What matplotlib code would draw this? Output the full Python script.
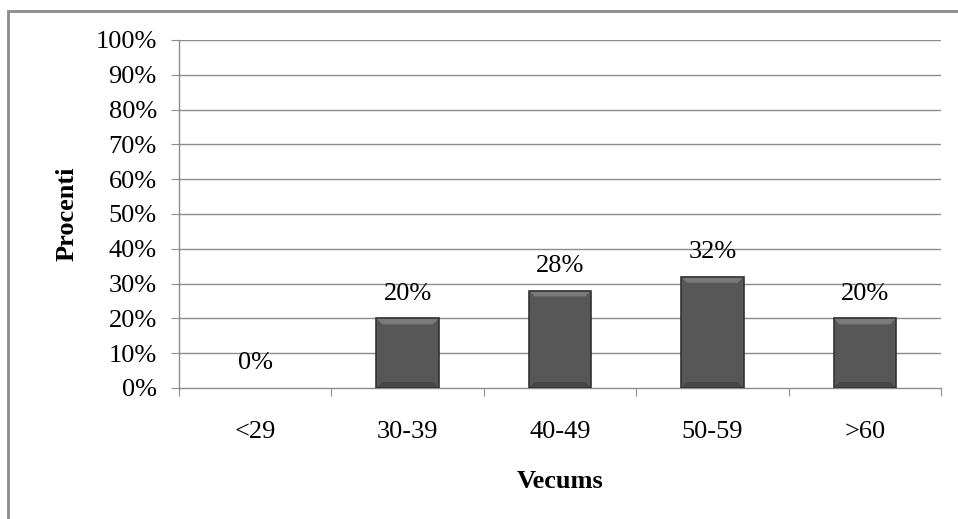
import matplotlib
matplotlib.use("Agg")
import matplotlib.pyplot as plt
from matplotlib.patches import Rectangle, Polygon
import numpy as np

categories = ["<29", "30-39", "40-49", "50-59", ">60"]
values = [0, 20, 28, 32, 20]
value_labels = ["0%", "20%", "28%", "32%", "20%"]
y_ticks = [0, 10, 20, 30, 40, 50, 60, 70, 80, 90, 100]

plt.rcParams["font.family"] = ["Liberation Serif", "DejaVu Serif"]
FS = 19

fig = plt.figure(figsize=(9.58, 5.19), dpi=100)
ax = fig.add_axes([179 / 958, 1 - 388 / 519, 762 / 958, 348 / 519])

# outer chart frame
fig.patches.append(Rectangle((8 / 958, -0.1), 1.2, (519 - 11) / 519 + 0.1,
                             transform=fig.transFigure, fill=False,
                             edgecolor="#8c8c8c", linewidth=2))

x = np.arange(len(categories))
bar_w = 0.41
ax.set_xlim(-0.5, len(categories) - 0.5)
ax.set_ylim(0, 100)

for yt in y_ticks[1:]:
    ax.axhline(yt, color="#8c8c8c", linewidth=1, zorder=0)

bars = ax.bar(x, values, width=bar_w, color="#575757", linewidth=0, zorder=2)

# bevelled top and bottom edges on each bar
px_y = 100 / 348
px_x = len(categories) / 762
for b in bars:
    h = b.get_height()
    if h <= 0:
        continue
    x0, x1 = b.get_x(), b.get_x() + b.get_width()
    d = 6
    top = Polygon([(x0, h), (x1, h), (x1 - d * px_x, h - d * px_y),
                   (x0 + d * px_x, h - d * px_y)], closed=True,
                  facecolor="#7a7a7a", edgecolor="none", zorder=3)
    ax.add_patch(top)
    bot = Polygon([(x0, 0), (x1, 0), (x1 - d * px_x, d * px_y),
                   (x0 + d * px_x, d * px_y)], closed=True,
                  facecolor="#474747", edgecolor="none", zorder=3)
    ax.add_patch(bot)
    ax.add_patch(Rectangle((x0, 0), x1 - x0, h, fill=False,
                           edgecolor="#333333", linewidth=1.2, zorder=4))

for xi, v, lab in zip(x, values, value_labels):
    ax.text(xi, v + 5.4, lab, ha="center", va="baseline", fontsize=FS,
            color="black")

ax.set_yticks(y_ticks)
ax.set_yticklabels([f"{t}%" for t in y_ticks], fontsize=FS)
ax.set_xticks(np.arange(-0.5, len(categories) + 0.5, 1))
ax.set_xticklabels([])
ax.set_xticks(x, minor=True)
ax.set_xticklabels(categories, minor=True, fontsize=FS)
ax.tick_params(axis="x", which="minor", length=0, pad=24)
ax.tick_params(axis="x", which="major", length=6, color="#8c8c8c",
               direction="out")
ax.tick_params(axis="y", length=6, color="#8c8c8c", direction="out", pad=10)

for side in ["top", "right"]:
    ax.spines[side].set_visible(False)
for side in ["left", "bottom"]:
    ax.spines[side].set_color("#8c8c8c")
    ax.spines[side].set_linewidth(1)

ax.set_ylabel("Procenti", fontsize=FS, fontweight="bold", labelpad=12)
ax.set_xlabel("Vecums", fontsize=FS, fontweight="bold", labelpad=19)

fig.savefig("out.png", dpi=100)
